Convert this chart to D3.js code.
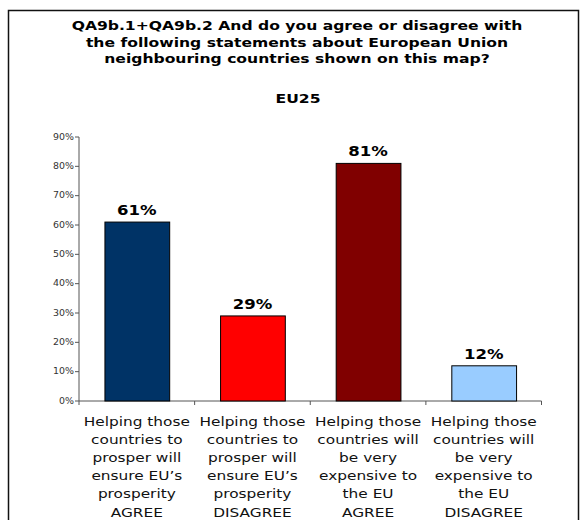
<!DOCTYPE html>
<html>
<head>
<meta charset="utf-8">
<script src="https://cdn.jsdelivr.net/npm/d3@7"></script>
<style>
  html, body { margin: 0; padding: 0; background: #fff; }
  svg { display: block; }
</style>
</head>
<body>
<svg id="chart" width="585" height="520"></svg>
<script>
const titleLines = [
  "QA9b.1+QA9b.2 And do you agree or disagree with",
  "the following statements about European Union",
  "neighbouring countries shown on this map?"
];
const subtitle = "EU25";
const categories = [
  ["Helping those", "countries to", "prosper will", "ensure EU\u2019s", "prosperity", "AGREE"],
  ["Helping those", "countries to", "prosper will", "ensure EU\u2019s", "prosperity", "DISAGREE"],
  ["Helping those", "countries will", "be very", "expensive to", "the EU", "AGREE"],
  ["Helping those", "countries will", "be very", "expensive to", "the EU", "DISAGREE"]
];
const values = [61, 29, 81, 12];
const barColors = ["#003366", "#FF0000", "#800000", "#99CCFF"];
const yTicks = [0, 10, 20, 30, 40, 50, 60, 70, 80, 90];

const svg = d3.select("#chart");
const SX = 1.18;

// outer frame
svg.append("rect")
  .attr("x", 8.5).attr("y", 10.5).attr("width", 570).attr("height", 530)
  .attr("fill", "#fff").attr("stroke", "#111").attr("stroke-width", 1.5);

function stretchedText(g, x, y, txt, opts) {
  const grp = g.append("g").attr("transform", `translate(${x},${y})`);
  const t = grp.append("text")
    .attr("transform", `scale(${opts.sx || SX},1)`)
    .attr("text-anchor", opts.anchor || "middle")
    .attr("font-family", opts.family || "DejaVu Sans")
    .attr("font-size", opts.size)
    .attr("font-weight", opts.weight || "normal")
    .attr("fill", opts.fill || "#000")
    .text(txt);
  if (opts.dy) t.attr("dy", opts.dy);
  return t;
}

// title
const titleG = svg.append("g");
titleLines.forEach((l, i) => {
  stretchedText(titleG, 297, 30 + i * 16.5, l, {size: 13, weight: "bold", sx: 1.2});
});
stretchedText(titleG, 298, 103, subtitle, {size: 13, weight: "bold", sx: 1.2});

// scales
const x = d3.scaleBand()
  .domain(d3.range(categories.length))
  .range([79, 541.5])
  .paddingInner(0.44)
  .paddingOuter(0.22);
const y = d3.scaleLinear().domain([0, 90]).range([401, 137]);

// y axis
const yAxisG = svg.append("g").attr("transform", "translate(79,0)");
yAxisG.append("line").attr("x1", 0).attr("x2", 0).attr("y1", y(0)).attr("y2", y(90))
  .attr("stroke", "#555").attr("stroke-width", 1);
yTicks.forEach(v => {
  yAxisG.append("line").attr("x1", -4).attr("x2", 0).attr("y1", y(v)).attr("y2", y(v))
    .attr("stroke", "#555").attr("stroke-width", 1);
  stretchedText(yAxisG, -5, y(v), v + "%", {size: 8, anchor: "end", fill: "#333", dy: "0.35em"});
});

// x axis
const step = x.step();
const x0 = x.range()[0];
const xAxisG = svg.append("g");
xAxisG.append("line").attr("x1", x0).attr("x2", x.range()[1]).attr("y1", y(0)).attr("y2", y(0))
  .attr("stroke", "#555").attr("stroke-width", 1);
d3.range(categories.length + 1).forEach(i => {
  const xx = x0 + i * step;
  xAxisG.append("line").attr("x1", xx).attr("x2", xx).attr("y1", y(0)).attr("y2", y(0) + 4)
    .attr("stroke", "#555").attr("stroke-width", 1);
});

// bars
svg.append("g").selectAll("rect")
  .data(values)
  .join("rect")
  .attr("x", (d, i) => x(i) + 0.5)
  .attr("y", d => y(d))
  .attr("width", x.bandwidth())
  .attr("height", d => y(0) - y(d))
  .attr("fill", (d, i) => barColors[i])
  .attr("stroke", "#000")
  .attr("stroke-width", 1);

// value labels
const valG = svg.append("g");
values.forEach((v, i) => {
  stretchedText(valG, x(i) + x.bandwidth() / 2, y(v) - 7, v + "%", {size: 14, weight: "bold", sx: 1.18});
});

// category labels
const catG = svg.append("g");
categories.forEach((lines, i) => {
  const cx = x0 + (i + 0.5) * step;
  lines.forEach((l, j) => {
    stretchedText(catG, cx, 425.5 + j * 18.2, l, {size: 13, fill: "#111"});
  });
});
</script>
</body>
</html>
